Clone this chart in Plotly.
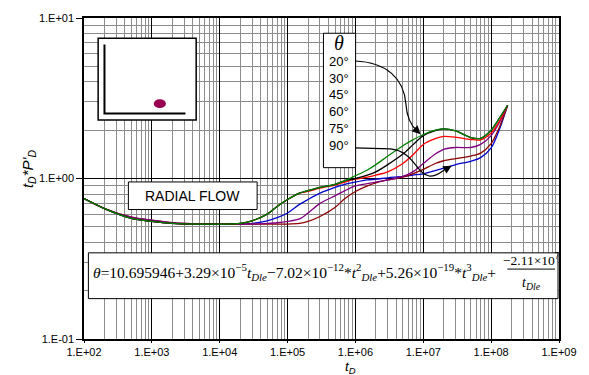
import plotly.graph_objects as go

# Dimensionless time grid shared by all curves
t_d = [1e2, 2e2, 5e2, 1e3, 2e3, 5e3, 1e4, 2e4, 3e4, 5e4, 7e4, 1e5, 1.5e5, 2e5,
       3e5, 5e5, 7e5, 1e6, 1.5e6, 2e6, 3e6, 5e6, 7e6, 1e7, 1.5e7, 2e7, 3e7,
       5e7, 7e7, 1e8, 1.3e8, 1.75e8]

# Pressure-derivative t_D * P'_D for each inclination angle
deriv_20 = [0.75, 0.65, 0.565, 0.54, 0.525, 0.52, 0.52, 0.525, 0.545, 0.60, 0.67,
            0.74, 0.81, 0.84, 0.88, 0.92, 0.97, 1.04, 1.13, 1.22, 1.38, 1.60,
            1.74, 1.88, 2.00, 2.04, 1.98, 1.80, 1.78, 2.00, 2.35, 2.86]
deriv_30 = [0.75, 0.65, 0.565, 0.54, 0.525, 0.52, 0.52, 0.525, 0.545, 0.60, 0.67,
            0.74, 0.81, 0.84, 0.88, 0.92, 0.97, 1.00, 1.05, 1.10, 1.22, 1.42,
            1.62, 1.85, 1.99, 2.04, 1.98, 1.80, 1.78, 2.00, 2.35, 2.86]
deriv_45 = [0.75, 0.65, 0.565, 0.54, 0.525, 0.52, 0.52, 0.525, 0.545, 0.60, 0.67,
            0.74, 0.81, 0.83, 0.87, 0.91, 0.95, 0.99, 1.02, 1.05, 1.10, 1.24,
            1.40, 1.63, 1.77, 1.83, 1.81, 1.75, 1.74, 1.92, 2.25, 2.86]
deriv_60 = [0.75, 0.65, 0.575, 0.55, 0.53, 0.52, 0.52, 0.52, 0.52, 0.525, 0.53,
            0.54, 0.56, 0.61, 0.70, 0.78, 0.84, 0.90, 0.93, 0.95, 0.98, 1.03,
            1.10, 1.24, 1.42, 1.52, 1.56, 1.56, 1.63, 1.85, 2.20, 2.86]
deriv_75 = [0.75, 0.65, 0.575, 0.55, 0.53, 0.52, 0.52, 0.52, 0.52, 0.52, 0.52,
            0.52, 0.525, 0.54, 0.58, 0.66, 0.75, 0.83, 0.90, 0.94, 0.98, 1.02,
            1.07, 1.14, 1.24, 1.29, 1.33, 1.38, 1.44, 1.65, 2.05, 2.86]
deriv_90 = [0.75, 0.65, 0.565, 0.54, 0.525, 0.52, 0.52, 0.52, 0.525, 0.545, 0.57,
            0.61, 0.69, 0.74, 0.81, 0.88, 0.92, 0.95, 0.98, 0.99, 1.01, 1.03,
            1.05, 1.07, 1.12, 1.16, 1.22, 1.28, 1.35, 1.55, 1.98, 2.86]

angle_labels = ["20°", "30°", "45°", "60°", "75°", "90°"]

x_tickvals = [1e2, 1e3, 1e4, 1e5, 1e6, 1e7, 1e8, 1e9]
x_ticktext = ["1.E+02", "1.E+03", "1.E+04", "1.E+05", "1.E+06", "1.E+07", "1.E+08", "1.E+09"]
y_tickvals = [0.1, 1, 10]
y_ticktext = ["1.E-01", "1.E+00", "1.E+01"]

series = {
    "20°": (deriv_20, "#008000"),
    "30°": (deriv_30, "#000000"),
    "45°": (deriv_45, "#ff0000"),
    "60°": (deriv_60, "#800080"),
    "75°": (deriv_75, "#8b0000"),
    "90°": (deriv_90, "#0000cc"),
}
draw_order = ["90°", "75°", "60°", "45°", "30°", "20°"]

SANS = "Liberation Sans, Arial, sans-serif"
SERIF = "Liberation Serif, Times New Roman, serif"

W, H = 589, 375
L, R, T, B = 84, 18, 13, 36
PW, PH = W - L - R, H - T - B


def px(x, y):
    """Pixel position in the page -> paper coordinates."""
    return (x - L) / PW, (H - B - y) / PH


def minor_vals(lo, hi):
    vals = []
    for e in range(lo, hi):
        for m in range(2, 10):
            vals.append(m * 10.0 ** e)
    return vals


fig = go.Figure()
for name in draw_order:
    vals, color = series[name]
    fig.add_trace(go.Scatter(
        x=t_d, y=vals, mode="lines", name=name,
        line=dict(color=color, width=1.3, shape="spline", smoothing=0.8),
        showlegend=False, hoverinfo="skip"))

axis_common = dict(
    type="log", showline=True, linecolor="black", linewidth=1.5, mirror=True,
    ticks="outside", tickcolor="black", tickwidth=1,
    showgrid=True, gridcolor="#000000", gridwidth=1,
    tickfont=dict(family=SANS, size=11, color="black"),
)
fig.update_xaxes(range=[2, 9], tickvals=x_tickvals, ticktext=x_ticktext, ticklen=2,
                 minor=dict(tickvals=minor_vals(2, 9), showgrid=True,
                            gridcolor="#8c8c8c", gridwidth=1, ticks=""),
                 **axis_common)
fig.update_yaxes(range=[-1, 1], tickvals=y_tickvals, ticktext=y_ticktext, ticklen=6,
                 minor=dict(tickvals=minor_vals(-1, 1), showgrid=True,
                            gridcolor="#8c8c8c", gridwidth=1, ticks=""),
                 **axis_common)

shapes = []


def rect(x0, y0, x1, y1, width=1):
    a, b = px(x0, y1)
    c, d = px(x1, y0)
    shapes.append(dict(type="rect", xref="paper", yref="paper", x0=a, y0=b, x1=c, y1=d,
                       line=dict(color="black", width=width), fillcolor="white", layer="above"))


def path(points, width=1.2):
    cmds = []
    for cmd, pts in points:
        coords = " ".join("%.4f,%.4f" % px(*p) for p in pts)
        cmds.append(cmd + coords)
    shapes.append(dict(type="path", xref="paper", yref="paper", path=" ".join(cmds),
                       line=dict(color="black", width=width), layer="above"))


# Inset sketch: well axes with the wellbore position
rect(98.5, 33.5, 199, 116.5, width=1.5)
path([("M", [(105, 40)]), ("L", [(105, 110)]), ("L", [(188, 110)])], width=2)
cx0, cy0 = px(155.5, 95.5)
cx1, cy1 = px(168, 104.5)
shapes.append(dict(type="circle", xref="paper", yref="paper", x0=cx0, y0=cy1, x1=cx1, y1=cy0,
                   fillcolor="#990050", line=dict(width=0), layer="above"))

# Angle list box, radial-flow box, equation box
rect(329.5, 28.5, 362.5, 165)
rect(129.5, 179.5, 261.5, 207.5)
rect(88.5, 251.5, 570, 298)

# Fraction bar of the last equation term
fb0 = px(518, 268)
fb1 = px(567, 268)
shapes.append(dict(type="line", xref="paper", yref="paper", x0=fb0[0], y0=fb0[1],
                   x1=fb1[0], y1=fb1[1], line=dict(color="black", width=1), layer="above"))

# Curved pointers from 20° and 90° labels to their curves
path([("M", [(362, 56.7)]), ("C", [(395, 58), (412, 75), (414, 100)]),
      ("C", [(415, 115), (420, 123), (426, 128)])])
path([("M", [(362, 145)]), ("L", [(398, 146)]), ("C", [(422, 148), (425, 172), (438, 173.5)]),
      ("C", [(447, 174), (451, 168), (457, 165)])])

annotations = []


def text(x, y, s, size, family=SANS, xanchor="center", angle=0):
    xp, yp = px(x, y)
    annotations.append(dict(x=xp, y=yp, xref="paper", yref="paper", text=s, showarrow=False,
                            xanchor=xanchor, yanchor="middle", textangle=angle,
                            font=dict(family=family, size=size, color="black")))


def arrowhead(x, y, ax, ay):
    xp, yp = px(x, y)
    annotations.append(dict(x=xp, y=yp, xref="paper", yref="paper", text="", showarrow=True,
                            ax=ax, ay=ay, arrowhead=2, arrowsize=1.4, arrowwidth=1.2,
                            arrowcolor="black", standoff=0))


arrowhead(429, 131, -6, -6)
arrowhead(461, 163, -7, 4)

text(345.5, 38.5, "<i>θ</i>", 20, family=SERIF)
label_y = [57, 74, 91, 108, 125, 142.5]
for lab, yy in zip(angle_labels, label_y):
    text(345.7, yy, lab, 13)

text(195.5, 193.5, "RADIAL FLOW", 14)

eq = ("<i>θ</i>=10.695946+3.29×10<sup>−5</sup><i>t</i><sub><i>Dle</i></sub>−"
      "7.02×10<sup>−12</sup>*<i>t</i><sup>2</sup><sub><i>Dle</i></sub>+"
      "5.26×10<sup>−19</sup>*<i>t</i><sup>3</sup><sub><i>Dle</i></sub>+")
text(91, 271, eq, 15.5, family=SERIF, xanchor="left")
text(543, 258, "−2.11×10<sup>7</sup>", 13.5, family=SERIF)
text(543, 283, "<i>t</i><sub><i>Dle</i></sub>", 14, family=SERIF)

text(27, 166, "<i>t<sub>D</sub>*P'<sub>D</sub></i>", 15, angle=-90)
text(357, 367.5, "<i>t<sub>D</sub></i>", 13.5)

fig.update_layout(
    width=W, height=H, margin=dict(l=L, r=R, t=T, b=B),
    paper_bgcolor="white", plot_bgcolor="white",
    shapes=shapes, annotations=annotations,
)

fig.write_html("out.html")
